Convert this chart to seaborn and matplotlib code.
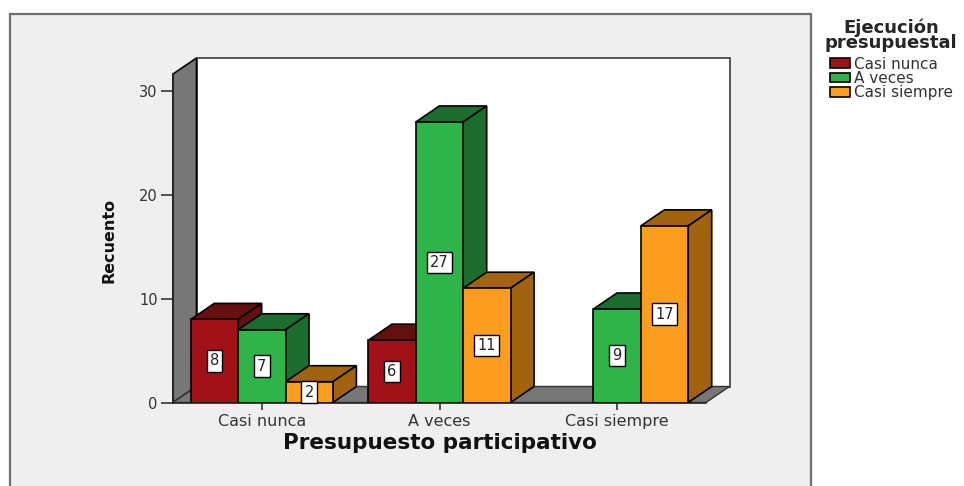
import numpy as np
import pandas as pd
import matplotlib
matplotlib.use("Agg")
import matplotlib.pyplot as plt
from matplotlib.patches import Polygon, Rectangle
import seaborn as sns

categories = ["Casi nunca", "A veces", "Casi siempre"]
series_names = ["Casi nunca", "A veces", "Casi siempre"]
casi_nunca = [8, 6, np.nan]
a_veces = [7, 27, 9]
casi_siempre = [2, 11, 17]
y_ticks = [0, 10, 20, 30]

front_colors = ["#A01218", "#2FB44A", "#FB9D1F"]
dark_colors = ["#64100F", "#1D6E2E", "#A2630F"]

sns.set_style("white")
plt.rcParams["font.family"] = ["DejaVu Sans"]

W, H = 964, 486
fig = plt.figure(figsize=(W / 100, H / 100), dpi=100, facecolor="white")

# Grey chart panel (open at the bottom of the image)
fig.patches.append(Rectangle((9.5 / W, -0.02), (811 - 9.5) / W, 1.02 - 14 / H,
                             transform=fig.transFigure, facecolor="#EFEFEF",
                             edgecolor="#6E6E6E", linewidth=1.6, zorder=-5))

left, right, base, top = 173, 706, 402.5, 74
ax = fig.add_axes([left / W, (H - base) / H, (right - left) / W, (base - top) / H])
ax.patch.set_alpha(0)

df = pd.DataFrame({
    "cat": categories * 3,
    "serie": np.repeat(series_names, 3),
    "n": casi_nunca + a_veces + casi_siempre,
})
sns.barplot(data=df, x="cat", y="n", hue="serie", order=categories,
            hue_order=series_names, palette=front_colors, saturation=1,
            width=0.8, edgecolor="black", linewidth=1.2, ax=ax)

ppu_y = 10.39
ax.set_xlim(-0.5, 2.5)
ax.set_ylim(0, (base - top) / ppu_y)
dx = 23.5 / (right - left) * 3
dy = 16 / ppu_y
x0, x1 = ax.get_xlim()
y0, y1 = ax.get_ylim()

# Walls and floor
ax.add_patch(Polygon([(x0 + dx, y0 + dy), (x1 + dx, y0 + dy), (x1 + dx, y1 + dy), (x0 + dx, y1 + dy)],
                     facecolor="white", edgecolor="#555555", linewidth=1.4, clip_on=False, zorder=0.5))
ax.add_patch(Polygon([(x0, y0), (x0 + dx, y0 + dy), (x0 + dx, y1 + dy), (x0, y1)],
                     facecolor="#777777", edgecolor="black", linewidth=1.2, clip_on=False, zorder=0.6))
ax.add_patch(Polygon([(x0, y0), (x1, y0), (x1 + dx, y0 + dy), (x0 + dx, y0 + dy)],
                     facecolor="#777777", edgecolor="#333333", linewidth=1, clip_on=False, zorder=0.6))

# Extrude each bar; paint from left to right
bars = []
for color_i, container in enumerate(ax.containers):
    for bar in container:
        if np.isfinite(bar.get_height()) and bar.get_height() > 0:
            bars.append((bar, color_i))
bars.sort(key=lambda item: item[0].get_x())

for i, (bar, color_i) in enumerate(bars):
    z = 2 + i
    xa, w, h = bar.get_x(), bar.get_width(), bar.get_height()
    xb = xa + w
    dark = dark_colors[color_i]
    ax.add_patch(Polygon([(xa, h), (xb, h), (xb + dx, h + dy), (xa + dx, h + dy)],
                         facecolor=dark, edgecolor="black", linewidth=1.2, clip_on=False, zorder=z))
    ax.add_patch(Polygon([(xb, 0), (xb + dx, dy), (xb + dx, h + dy), (xb, h)],
                         facecolor=dark, edgecolor="black", linewidth=1.2, clip_on=False, zorder=z))
    bar.set_zorder(z + 0.5)
    ax.text(xa + w / 2, h / 2, f"{h:.0f}", ha="center", va="center", fontsize=10.5,
            color="#222222", zorder=100,
            bbox=dict(boxstyle="square,pad=0.22", facecolor="white", edgecolor="black", linewidth=1))

# Axes
for s in ("top", "right"):
    ax.spines[s].set_visible(False)
ax.spines["left"].set_linewidth(1.2)
ax.spines["bottom"].set_linewidth(1.2)
ax.spines["left"].set_zorder(1)
ax.set_yticks(y_ticks)
ax.tick_params(axis="y", left=True, length=9, width=1.1, pad=2, labelsize=10.5, labelcolor="#333333")
ax.tick_params(axis="x", bottom=True, length=5, width=1.1, pad=3, labelsize=11.5, labelcolor="#333333")
ax.set_xlabel("Presupuesto participativo", fontsize=15.5, fontweight="bold", labelpad=3, color="#111111")
ax.set_ylabel("")
fig.text(109 / W, 1 - 240 / H, "Recuento", rotation=90, ha="center", va="center", fontsize=11.5,
         fontweight="bold", color="#111111")

# Legend
handles, labels = ax.get_legend_handles_labels()
ax.get_legend().remove()
leg = fig.legend(handles, labels, title="Ejecución\npresupuestal", loc="upper left",
                 bbox_to_anchor=(825 / W, 1 - 18 / H), frameon=False, fontsize=11,
                 title_fontproperties={"weight": "bold", "size": 13},
                 handlelength=1.3, handleheight=0.6, handletextpad=0.25,
                 labelspacing=-0.05, borderpad=0, borderaxespad=0, alignment="center")
leg.get_title().set_linespacing(0.85)
leg.get_title().set_multialignment("center")
leg._legend_box.sep = 3
for t in leg.get_texts():
    t.set_color("#333333")

fig.savefig("out.png", dpi=100)
